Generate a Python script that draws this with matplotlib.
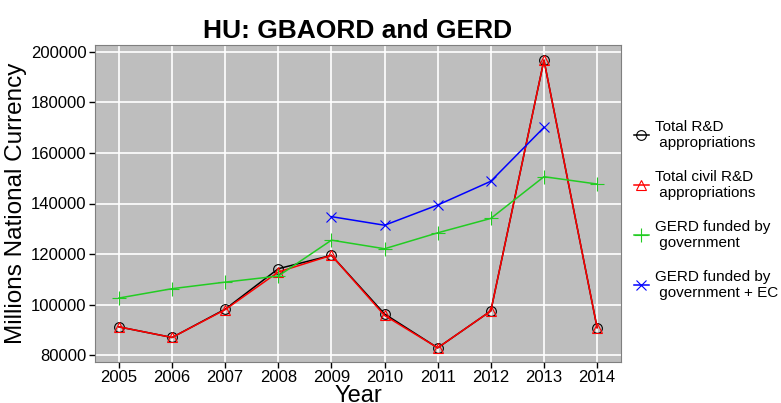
import matplotlib
matplotlib.use("Agg")
import matplotlib.pyplot as plt

years = [2005, 2006, 2007, 2008, 2009, 2010, 2011, 2012, 2013, 2014]
total_rd = [91200, 87000, 98200, 114200, 119500, 96300, 82900, 97500, 196700, 90900]
civil_rd = [91200, 87000, 98000, 112900, 119500, 95700, 82900, 97500, 196700, 90900]
gerd_gov_years = [2005, 2006, 2007, 2008, 2009, 2010, 2011, 2012, 2013, 2014]
gerd_gov = [102600, 106300, 108900, 111300, 125500, 122100, 128400, 134100, 150600, 147700]
gerd_ec_years = [2009, 2010, 2011, 2012, 2013]
gerd_ec = [134800, 131400, 139400, 148800, 170100]
yticks = [80000, 100000, 120000, 140000, 160000, 180000, 200000]

plt.rcParams['font.family'] = ['Liberation Sans', 'DejaVu Sans']

fig = plt.figure(figsize=(7.81, 4.03), dpi=100)
ax = fig.add_axes([95/781, 41/403, 526/781, 317/403])
ax.set_facecolor('#bebebe')
ax.grid(True, color='white', linewidth=1.2)
ax.set_axisbelow(True)

ax.plot(years, total_rd, color='black', marker='o', mfc='none', ms=7, mew=0.8, lw=1.1,
        label='Total R&D\n appropriations')
ax.plot(years, civil_rd, color='red', marker='^', mfc='none', ms=7.5, mew=0.8, lw=1.1,
        label='Total civil R&D\n appropriations')
ax.plot(gerd_gov_years, gerd_gov, color='#22cc22', marker='+', ms=10, mew=0.8, lw=1.1,
        label='GERD funded by\n government')
ax.plot(gerd_ec_years, gerd_ec, color='blue', marker='x', ms=7.5, mew=0.8, lw=1.1,
        label='GERD funded by\n government + EC')

ax.set_xlim(2005 - 0.45, 2014 + 0.45)
ax.set_ylim(77300, 202700)
ax.set_xticks(years)
ax.set_yticks(yticks)
ax.tick_params(labelsize=12, color='black', length=4, width=1, pad=2)
for s in ax.spines.values():
    s.set_color('#7f7f7f')
ax.set_xlabel('Year', fontsize=17, labelpad=0)
ax.set_ylabel('Millions National Currency', fontsize=17.5, labelpad=3)
ax.set_title('HU: GBAORD and GERD', fontsize=19, fontweight='bold', pad=5)

leg = ax.legend(loc='center left', bbox_to_anchor=(0.995, 0.48), frameon=False,
                fontsize=11, labelspacing=1.3, handlelength=1.0, handletextpad=0.4,
                borderaxespad=0.6)
for t in leg.get_texts():
    t.set_multialignment('left')

fig.savefig('out.png', dpi=100)
